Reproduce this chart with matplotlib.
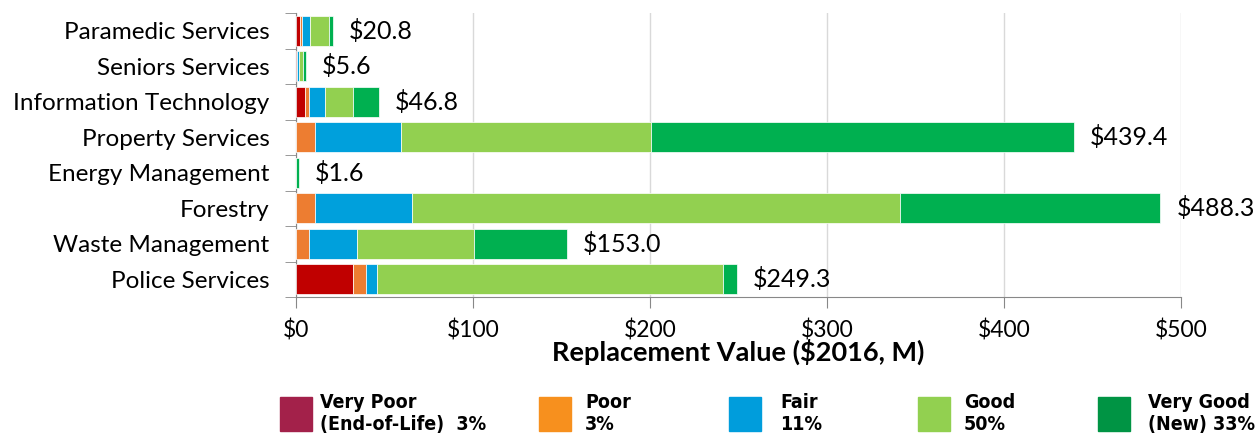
import matplotlib
matplotlib.use("Agg")
import matplotlib.pyplot as plt
from matplotlib.patches import Rectangle
import numpy as np

categories = ["Paramedic Services", "Seniors Services", "Information Technology",
              "Property Services", "Energy Management", "Forestry",
              "Waste Management", "Police Services"]
very_poor = [2.4, 0.3, 5.3, 0.0, 0.0, 0.0, 0.0, 32.4]
poor      = [1.1, 0.3, 2.3, 11.0, 0.0, 11.0, 7.3, 7.2]
fair      = [4.5, 1.0, 8.7, 48.6, 0.0, 54.5, 27.1, 6.0]
good      = [10.7, 2.3, 15.8, 140.7, 0.0, 276.0, 66.3, 195.7]
very_good = [2.1, 1.7, 14.7, 239.1, 1.6, 146.8, 52.3, 8.0]
totals    = [20.8, 5.6, 46.8, 439.4, 1.6, 488.3, 153.0, 249.3]
xticks = [0, 100, 200, 300, 400, 500]
legend_names = ["Very Poor\n(End-of-Life)  3%", "Poor\n3%", "Fair\n11%", "Good\n50%", "Very Good\n(New) 33%"]

bar_colors = ["#C00000", "#ED7D31", "#00A0DC", "#92D050", "#00B050"]
legend_colors = ["#A3214A", "#F7901E", "#009DDC", "#92D050", "#009444"]

W, H = 1260, 441
fig = plt.figure(figsize=(W/100, H/100), dpi=100)
ax_top, ax_bot = 13, 297
ax = fig.add_axes([296/W, 1-ax_bot/H, (1181-296)/W, (ax_bot-ax_top)/H])

font = "Lato"
series = [very_poor, poor, fair, good, very_good]
y = np.arange(len(categories))
left = np.zeros(len(categories))
for vals, c in zip(series, bar_colors):
    vals = np.array(vals)
    ax.barh(y, vals, left=left, height=0.85, color=c, edgecolor="white", linewidth=0.5, zorder=3)
    left += vals

for yi, t in zip(y, totals):
    ax.annotate(f"${t:.1f}", (t, yi), xytext=(16, 0), textcoords="offset pixels",
                va="center", ha="left", fontsize=18, family=font)

ax.set_ylim(len(categories)-0.5, -0.5)
ax.set_xlim(0, 500)
ax.set_yticks(y)
ax.set_yticklabels(categories, fontsize=17.5, family=font)
ax.set_yticks(np.arange(-0.5, len(categories), 1), minor=True)
ax.tick_params(axis="y", which="major", length=0, pad=19)
ax.tick_params(axis="y", which="minor", length=8, color="#888888", direction="out")
ax.set_xticks(xticks)
ax.set_xticklabels([f"${v}" for v in xticks], fontsize=16.5, family=font)
ax.tick_params(axis="x", length=8, color="#888888", direction="out", pad=8)
ax.grid(axis="x", color="#D9D9D9", linewidth=1, zorder=0)
for s in ["top", "right"]:
    ax.spines[s].set_visible(False)
for s in ["left", "bottom"]:
    ax.spines[s].set_color("#888888")
ax.set_xlabel("Replacement Value ($2016, M)", fontsize=19.5, fontweight="bold", family=font,
              va="center")
ax.xaxis.set_label_coords(0.5, (ax_bot-352)/(ax_bot-ax_top))

patch_x = [280, 539, 729, 918, 1098]
text_x = [320, 585, 780, 964, 1148]
for px, tx, name, c in zip(patch_x, text_x, legend_names, legend_colors):
    fig.patches.append(Rectangle((px/W, 1-431/H), 32/W, 34/H, transform=fig.transFigure,
                                 color=c, figure=fig))
    fig.text(tx/W, 1-393/H, name, ha="left", va="top", fontsize=14, fontweight="bold",
             family="DejaVu Sans", fontstretch="condensed", linespacing=1.2)

fig.savefig("out.png", dpi=100)
